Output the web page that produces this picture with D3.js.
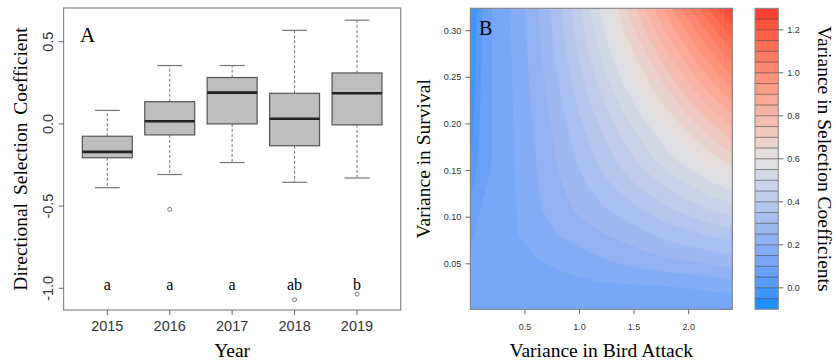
<!DOCTYPE html>
<html>
<head>
<meta charset="utf-8">
<script src="https://cdn.jsdelivr.net/npm/d3@7"></script>
<style>
body { margin: 0; background: #fff; }
svg { display: block; }
</style>
</head>
<body>
<svg id="chart" width="836" height="362"></svg>
<script>
// Panel A: boxplots of directional selection per year
const years = ['2015', '2016', '2017', '2018', '2019']
const whiskerLow = [-0.388, -0.308, -0.235, -0.355, -0.329]
const q1 = [-0.206, -0.067, 0.0, -0.133, -0.006]
const median = [-0.17, 0.016, 0.19, 0.031, 0.186]
const q3 = [-0.075, 0.135, 0.282, 0.186, 0.31]
const whiskerHigh = [0.082, 0.355, 0.355, 0.569, 0.631]
const outlierYear = ['2016', '2018', '2019']
const outlierValue = [-0.52, -1.069, -1.035]
const groupLetters = ['a', 'a', 'a', 'ab', 'b']
const yTicksA = [-1.0, -0.5, 0.0, 0.5]

// Panel B: variance in selection coefficients read on a grid
const birdAttack = [0, 0.1, 0.2, 0.4, 0.6, 0.8, 1.0, 1.2, 1.4, 1.6, 1.8, 2.0, 2.2, 2.4]
const survival = [0, 0.01, 0.027, 0.054, 0.081, 0.108, 0.135, 0.162, 0.189, 0.216, 0.243, 0.27, 0.297, 0.324]
// one row per survival value, columns follow birdAttack
const selVariance = [
	[0.130, 0.130, 0.129, 0.127, 0.125, 0.122, 0.119, 0.116, 0.113, 0.110, 0.106, 0.102, 0.097, 0.090],
	[0.126, 0.127, 0.127, 0.127, 0.127, 0.127, 0.127, 0.127, 0.127, 0.127, 0.127, 0.126, 0.126, 0.125],
	[0.118, 0.125, 0.128, 0.132, 0.135, 0.137, 0.140, 0.143, 0.146, 0.149, 0.152, 0.155, 0.165, 0.175],
	[0.107, 0.120, 0.130, 0.140, 0.148, 0.158, 0.172, 0.195, 0.212, 0.228, 0.243, 0.255, 0.267, 0.277],
	[0.093, 0.115, 0.130, 0.145, 0.170, 0.200, 0.225, 0.245, 0.265, 0.290, 0.315, 0.335, 0.355, 0.375],
	[0.065, 0.102, 0.122, 0.145, 0.190, 0.225, 0.260, 0.290, 0.320, 0.355, 0.390, 0.420, 0.450, 0.474],
	[0.030, 0.088, 0.110, 0.147, 0.195, 0.240, 0.285, 0.330, 0.375, 0.420, 0.460, 0.500, 0.540, 0.573],
	[0.000, 0.075, 0.100, 0.148, 0.200, 0.255, 0.310, 0.365, 0.420, 0.475, 0.530, 0.580, 0.630, 0.675],
	[-0.020, 0.065, 0.100, 0.150, 0.205, 0.265, 0.330, 0.395, 0.460, 0.520, 0.585, 0.645, 0.710, 0.770],
	[-0.032, 0.058, 0.100, 0.152, 0.213, 0.280, 0.355, 0.430, 0.505, 0.575, 0.650, 0.720, 0.795, 0.870],
	[-0.040, 0.052, 0.100, 0.154, 0.220, 0.295, 0.380, 0.465, 0.550, 0.630, 0.710, 0.800, 0.885, 0.970],
	[-0.046, 0.047, 0.100, 0.156, 0.226, 0.310, 0.405, 0.500, 0.595, 0.685, 0.780, 0.875, 0.970, 1.070],
	[-0.050, 0.043, 0.100, 0.158, 0.233, 0.320, 0.425, 0.530, 0.640, 0.740, 0.850, 0.955, 1.060, 1.170],
	[-0.055, 0.040, 0.100, 0.160, 0.240, 0.330, 0.440, 0.560, 0.680, 0.800, 0.920, 1.040, 1.160, 1.270]
]
const xTicksB = [0.5, 1.0, 1.5, 2.0]
const yTicksB = [0.05, 0.10, 0.15, 0.20, 0.25, 0.30]
const colorTicks = [0.0, 0.2, 0.4, 0.6, 0.8, 1.0, 1.2]
const levels = d3.range(-0.1, 1.3001, 0.05) //contour breaks

const svg = d3.select('#chart')
const serif = '"Liberation Serif", "Times New Roman", serif'
const sans = '"Liberation Sans", Arial, sans-serif'

// ---------- Panel A ----------
const xA = d3.scaleLinear().domain([1, 5]).range([107.3, 357])
const yA = d3.scaleLinear().domain([-1, 0.5]).range([288.3, 41.7])
const boxHalf = (xA(2) - xA(1)) * 0.4
const capHalf = boxHalf / 2
const aLeft = 63.6, aRight = 400.7, aTop = 8, aBottom = 310

const gA = svg.append('g')

years.forEach(function (yr, i) {
	const cx = xA(i + 1)
	// whiskers
	gA.append('line')
		.attr('x1', cx).attr('x2', cx)
		.attr('y1', yA(q3[i])).attr('y2', yA(whiskerHigh[i]))
		.attr('stroke', '#777').attr('stroke-dasharray', '3,2')
	gA.append('line')
		.attr('x1', cx).attr('x2', cx)
		.attr('y1', yA(q1[i])).attr('y2', yA(whiskerLow[i]))
		.attr('stroke', '#777').attr('stroke-dasharray', '3,2')
	// staples
	;[whiskerHigh[i], whiskerLow[i]].forEach(function (v) {
		gA.append('line')
			.attr('x1', cx - capHalf).attr('x2', cx + capHalf)
			.attr('y1', yA(v)).attr('y2', yA(v))
			.attr('stroke', '#777').attr('stroke-width', 1.2)
	})
	// box
	gA.append('rect')
		.attr('x', cx - boxHalf)
		.attr('y', yA(q3[i]))
		.attr('width', boxHalf * 2)
		.attr('height', yA(q1[i]) - yA(q3[i]))
		.attr('fill', '#bebebe')
		.attr('stroke', '#555')
		.attr('stroke-width', 1.2)
	// median
	gA.append('line')
		.attr('x1', cx - boxHalf).attr('x2', cx + boxHalf)
		.attr('y1', yA(median[i])).attr('y2', yA(median[i]))
		.attr('stroke', '#222').attr('stroke-width', 2.6)
	// letters
	gA.append('text')
		.attr('x', cx)
		.attr('y', yA(-1.0) + 2)
		.attr('text-anchor', 'middle')
		.style('font-family', serif)
		.style('font-size', '16px')
		.text(groupLetters[i])
})

gA.selectAll('circle.out')
	.data(outlierValue)
	.enter()
	.append('circle')
	.attr('cx', function (d, i) { return xA(years.indexOf(outlierYear[i]) + 1) })
	.attr('cy', function (d) { return yA(d) })
	.attr('r', 2)
	.attr('fill', 'none')
	.attr('stroke', '#555')
	.attr('stroke-width', 0.8)

// frame
gA.append('rect')
	.attr('x', aLeft).attr('y', aTop)
	.attr('width', aRight - aLeft).attr('height', aBottom - aTop)
	.attr('fill', 'none').attr('stroke', '#888').attr('stroke-width', 1.2)

// y axis
yTicksA.forEach(function (t) {
	gA.append('line')
		.attr('x1', aLeft - 5).attr('x2', aLeft)
		.attr('y1', yA(t)).attr('y2', yA(t))
		.attr('stroke', '#666')
	gA.append('text')
		.attr('transform', 'translate(52.5,' + yA(t) + ') rotate(-90)')
		.attr('text-anchor', 'middle')
		.style('font-family', sans)
		.style('font-size', '14.5px')
		.attr('fill', '#333')
		.text(t.toFixed(1))
})
// x axis
years.forEach(function (yr, i) {
	gA.append('line')
		.attr('x1', xA(i + 1)).attr('x2', xA(i + 1))
		.attr('y1', aBottom).attr('y2', aBottom + 5)
		.attr('stroke', '#666')
	gA.append('text')
		.attr('x', xA(i + 1)).attr('y', 331)
		.attr('text-anchor', 'middle')
		.style('font-family', sans)
		.style('font-size', '14.5px')
		.attr('fill', '#333')
		.text(yr)
})

gA.append('text')
	.attr('x', 80).attr('y', 41.7)
	.style('font-family', serif).style('font-size', '21px')
	.text('A')
gA.append('text')
	.attr('x', (aLeft + aRight) / 2).attr('y', 357)
	.attr('text-anchor', 'middle')
	.style('font-family', serif).style('font-size', '19.5px')
	.text('Year')
gA.append('text')
	.attr('transform', 'translate(27,' + (aTop + aBottom) / 2 + ') rotate(-90)')
	.attr('text-anchor', 'middle')
	.style('font-family', serif).style('font-size', '19.5px')
	.style('word-spacing', '3px')
	.text('Directional Selection Coefficient')

// ---------- Panel B ----------
const xB = d3.scaleLinear().domain([0, 2.4]).range([470.4, 732.3])
const yB = d3.scaleLinear().domain([0.0012, 0.324]).range([309.3, 8.3])
const bLeft = 470.4, bRight = 732.3, bTop = 8.3, bBottom = 309.3

const bandColor = d3.piecewise(d3.interpolateLab, ['#1E90FF', '#E2E2E2', '#FF4030'])
const nBands = levels.length - 1
function colorOf(i) { return bandColor(i / (nBands - 1)) }

const nx = birdAttack.length, ny = survival.length
const flat = []
selVariance.forEach(function (row) { row.forEach(function (v) { flat.push(v) }) })

// grid coordinates -> data values (sample i sits at i + 0.5)
const gridX = d3.scaleLinear()
	.domain(birdAttack.map(function (d, i) { return i + 0.5 }))
	.range(birdAttack).clamp(true)
const gridY = d3.scaleLinear()
	.domain(survival.map(function (d, i) { return i + 0.5 }))
	.range(survival).clamp(true)
const project = d3.geoTransform({
	point: function (x, y) {
		this.stream.point(xB(gridX(x)), yB(gridY(y)))
	}
})
const path = d3.geoPath(project)

const contours = d3.contours()
	.size([nx, ny])
	.thresholds(levels.slice(0, nBands))(flat)

svg.append('clipPath').attr('id', 'clipB')
	.append('rect')
	.attr('x', bLeft).attr('y', bTop)
	.attr('width', bRight - bLeft).attr('height', bBottom - bTop)

const gB = svg.append('g')
gB.append('g')
	.attr('clip-path', 'url(#clipB)')
	.selectAll('path')
	.data(contours)
	.enter()
	.append('path')
	.attr('d', path)
	.attr('fill', function (d, i) { return colorOf(i) })
	.attr('stroke', function (d, i) { return colorOf(i) })
	.attr('stroke-width', 0.4)

gB.append('rect')
	.attr('x', bLeft).attr('y', bTop)
	.attr('width', bRight - bLeft).attr('height', bBottom - bTop)
	.attr('fill', 'none').attr('stroke', '#888').attr('stroke-width', 1.2)

yTicksB.forEach(function (t) {
	gB.append('line')
		.attr('x1', bLeft - 5).attr('x2', bLeft)
		.attr('y1', yB(t)).attr('y2', yB(t))
		.attr('stroke', '#666')
	gB.append('text')
		.attr('x', bLeft - 9).attr('y', yB(t) + 3)
		.attr('text-anchor', 'end')
		.style('font-family', sans).style('font-size', '9px')
		.attr('fill', '#333')
		.text(t.toFixed(2))
})
xTicksB.forEach(function (t) {
	gB.append('line')
		.attr('x1', xB(t)).attr('x2', xB(t))
		.attr('y1', bBottom).attr('y2', bBottom + 5)
		.attr('stroke', '#666')
	gB.append('text')
		.attr('x', xB(t)).attr('y', 330)
		.attr('text-anchor', 'middle')
		.style('font-family', sans).style('font-size', '9px')
		.attr('fill', '#333')
		.text(t.toFixed(1))
})

gB.append('text')
	.attr('x', 479).attr('y', 35)
	.style('font-family', serif).style('font-size', '20px')
	.text('B')
gB.append('text')
	.attr('x', (bLeft + bRight) / 2).attr('y', 357)
	.attr('text-anchor', 'middle')
	.style('font-family', serif).style('font-size', '19.5px')
	.text('Variance in Bird Attack')
gB.append('text')
	.attr('transform', 'translate(430,' + (bTop + bBottom) / 2 + ') rotate(-90)')
	.attr('text-anchor', 'middle')
	.style('font-family', serif).style('font-size', '19.5px')
	.text('Variance in Survival')

// ---------- colour key ----------
const cbLeft = 755, cbWidth = 23.3
const cY = d3.scaleLinear().domain([-0.1, 1.3]).range([309.3, 8.3])
const gC = svg.append('g')
gC.selectAll('rect.band')
	.data(levels.slice(0, nBands))
	.enter()
	.append('rect')
	.attr('x', cbLeft)
	.attr('y', function (d, i) { return cY(levels[i + 1]) })
	.attr('width', cbWidth)
	.attr('height', function (d, i) { return cY(levels[i]) - cY(levels[i + 1]) })
	.attr('fill', function (d, i) { return colorOf(i) })
gC.selectAll('line.sep')
	.data(levels.slice(1, nBands))
	.enter()
	.append('line')
	.attr('x1', cbLeft).attr('x2', cbLeft + cbWidth)
	.attr('y1', function (d) { return cY(d) }).attr('y2', function (d) { return cY(d) })
	.attr('stroke', '#333').attr('stroke-opacity', 0.7).attr('stroke-width', 0.8)
gC.append('rect')
	.attr('x', cbLeft).attr('y', cY(1.3))
	.attr('width', cbWidth).attr('height', cY(-0.1) - cY(1.3))
	.attr('fill', 'none').attr('stroke', '#888')
colorTicks.forEach(function (t) {
	gC.append('line')
		.attr('x1', cbLeft + cbWidth).attr('x2', cbLeft + cbWidth + 5)
		.attr('y1', cY(t)).attr('y2', cY(t))
		.attr('stroke', '#666')
	gC.append('text')
		.attr('x', cbLeft + cbWidth + 9).attr('y', cY(t) + 3)
		.style('font-family', sans).style('font-size', '9px')
		.attr('fill', '#333')
		.text(t.toFixed(1))
})
gC.append('text')
	.attr('transform', 'translate(818,' + (bTop + bBottom) / 2 + ') rotate(90)')
	.attr('text-anchor', 'middle')
	.style('font-family', serif).style('font-size', '19.5px')
	.text('Variance in Selection Coefficients')
</script>
</body>
</html>
